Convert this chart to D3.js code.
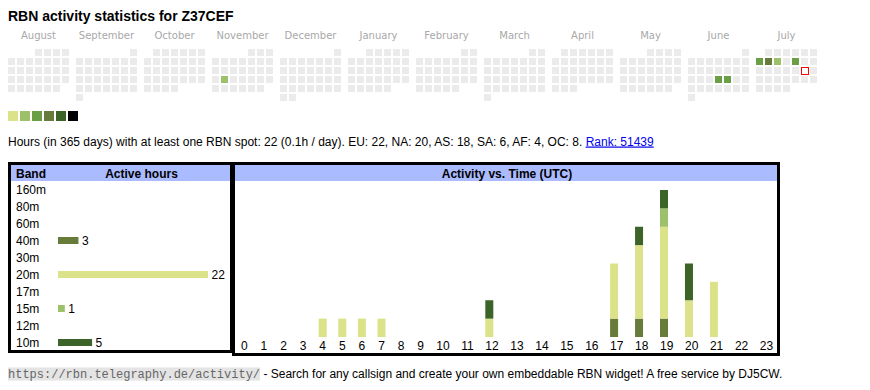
<!DOCTYPE html>
<html>
<head>
<meta charset="utf-8">
<script src="https://cdn.jsdelivr.net/npm/d3@7"></script>
<style>
  body { margin: 0; background: #fff; }
  svg { display: block; }
  text { font-family: "Liberation Sans", Arial, sans-serif; }
</style>
</head>
<body>
<div id="chart"></div>
<script>
// ---- data ----
const callsign = "Z37CEF";
const monthNames = ["August", "September", "October", "November", "December", "January",
                    "February", "March", "April", "May", "June", "July"];
const monthStarts = ["2024-08-01", "2024-09-01", "2024-10-01", "2024-11-01", "2024-12-01", "2025-01-01",
                     "2025-02-01", "2025-03-01", "2025-04-01", "2025-05-01", "2025-06-01", "2025-07-01"];
// days with activity and their level (1..6)
const activeDates = ["2024-11-19", "2025-06-19", "2025-06-20", "2025-07-07", "2025-07-08", "2025-07-09", "2025-07-11"];
const activeLevels = [2, 3, 3, 3, 4, 2, 3];
const today = "2025-07-19";
const levelColors = ["#dbe28a", "#9dc16a", "#6a9f46", "#677c3a", "#3c6428", "#000000"];

const bands = ["160m", "80m", "60m", "40m", "30m", "20m", "17m", "15m", "12m", "10m"];
const bandHours = [0, 0, 0, 3, 0, 22, 0, 1, 0, 5];
const bandColors = {"40m": "#677c3a", "20m": "#dbe28a", "15m": "#9dc16a", "10m": "#3c6428"};

const hourLabels = ["0","1","2","3","4","5","6","7","8","9","10","11",
                    "12","13","14","15","16","17","18","19","20","21","22","23"];
const hours40 = [0,0,0,0,0,0,0,0,0,0,0,0,0,0,0,0,0,1,1,1,0,0,0,0];
const hours20 = [0,0,0,0,1,1,1,1,0,0,0,0,1,0,0,0,0,3,4,5,2,3,0,0];
const hours15 = [0,0,0,0,0,0,0,0,0,0,0,0,0,0,0,0,0,0,0,1,0,0,0,0];
const hours10 = [0,0,0,0,0,0,0,0,0,0,0,0,1,0,0,0,0,0,1,1,2,0,0,0];

const statsText = "Hours (in 365 days) with at least one RBN spot: 22 (0.1h / day). EU: 22, NA: 20, AS: 18, SA: 6, AF: 4, OC: 8. ";
const rankText = "Rank: 51439";

const w = 870, h = 390;
const fs = "12px";

const svg = d3.select("#chart").append("svg")
    .attr("width", w)
    .attr("height", h);

// title
svg.append("text")
    .attr("x", 8).attr("y", 21)
    .style("font-size", "14px").style("font-weight", "bold")
    .text("RBN activity statistics for " + callsign);

// ---- calendar ----
const parse = d3.utcParse("%Y-%m-%d");
const levelByDay = {};
activeDates.forEach(function(d, i) { levelByDay[d] = activeLevels[i]; });

const xMonth = d3.scaleBand().domain(monthStarts).range([8, 8 + 68 * 12]);
const xDay = d3.scaleBand().domain(d3.range(7)).range([0, 63]);
const yWeek = d3.scaleBand().domain(d3.range(6)).range([49, 49 + 54]);
const fmt = d3.utcFormat("%Y-%m-%d");

const months = svg.append("g").attr("class", "calendar")
  .selectAll("g")
  .data(monthStarts)
  .enter().append("g")
    .attr("transform", function(d) { return "translate(" + xMonth(d) + ",0)"; });

months.append("text")
    .attr("x", 30.5).attr("y", 38.5)
    .attr("text-anchor", "middle")
    .style("font-family", "'DejaVu Sans', Verdana, sans-serif")
    .style("font-size", "10px")
    .style("fill", "#a8a8a8")
    .text(function(d, i) { return monthNames[i]; });

months.selectAll("rect")
  .data(function(m) {
    const start = parse(m);
    const offset = (start.getUTCDay() + 6) % 7;
    return d3.utcDays(start, d3.utcMonth.offset(start, 1)).map(function(day) {
      const idx = day.getUTCDate() - 1 + offset;
      return { key: fmt(day), col: idx % 7, row: Math.floor(idx / 7) };
    });
  })
  .enter().append("rect")
    .attr("x", function(d) { return xDay(d.col) + (d.key === today ? 0.5 : 0); })
    .attr("y", function(d) { return yWeek(d.row) + (d.key === today ? 0.5 : 0); })
    .attr("width", 7)
    .attr("height", 7)
    .attr("shape-rendering", "crispEdges")
    .style("fill", function(d) {
      if (d.key === today) return "#fff";
      return levelByDay[d.key] ? levelColors[levelByDay[d.key] - 1] : "#ebebeb";
    })
    .style("stroke", function(d) { return d.key === today ? "#ff0000" : "none"; })
    .style("stroke-width", 1);

// legend
svg.append("g").selectAll("rect")
  .data(levelColors)
  .enter().append("rect")
    .attr("x", function(d, i) { return 8 + i * 12; })
    .attr("y", 111)
    .attr("width", 10).attr("height", 10)
    .style("fill", function(d) { return d; });

// stats line
const stats = svg.append("text")
    .attr("x", 8).attr("y", 145.5)
    .style("font-size", fs);
stats.append("tspan").text(statsText);
stats.append("tspan")
    .style("fill", "#0000ee")
    .attr("text-decoration", "underline")
    .text(rankText);

// ---- band table ----
svg.append("rect")
    .attr("x", 11).attr("y", 165).attr("width", 221).attr("height", 16)
    .style("fill", "#aabbff");
svg.append("rect")
    .attr("x", 9.5).attr("y", 163.5).attr("width", 222).attr("height", 188)
    .style("fill", "none").style("stroke", "#000").style("stroke-width", 3);

svg.append("text").attr("x", 16).attr("y", 177.5)
    .style("font-size", fs).style("font-weight", "bold").text("Band");
svg.append("text").attr("x", 141.5).attr("y", 177.5).attr("text-anchor", "middle")
    .style("font-size", fs).style("font-weight", "bold").text("Active hours");

const xHours = d3.scaleLinear().domain([0, 22]).range([0, 150]);
const yBand = d3.scalePoint().domain(bands).range([193.5, 346.5]);

const bandRow = svg.append("g").selectAll("g")
  .data(bands)
  .enter().append("g")
    .attr("transform", function(d) { return "translate(0," + yBand(d) + ")"; });

bandRow.append("text")
    .attr("x", 16)
    .style("font-size", fs)
    .text(function(d) { return d; });

bandRow.filter(function(d, i) { return bandHours[i] > 0; })
  .each(function(d) {
    const v = bandHours[bands.indexOf(d)];
    const g = d3.select(this);
    g.append("rect")
      .attr("x", 58).attr("y", -7.5)
      .attr("width", xHours(v)).attr("height", 7)
      .style("fill", bandColors[d]);
    g.append("text")
      .attr("x", 58 + xHours(v) + 3.5)
      .style("font-size", fs)
      .text(v);
  });

// ---- activity vs time ----
svg.append("rect")
    .attr("x", 235).attr("y", 165).attr("width", 542).attr("height", 16)
    .style("fill", "#aabbff");
svg.append("rect")
    .attr("x", 233.5).attr("y", 163.5).attr("width", 545).attr("height", 191)
    .style("fill", "none").style("stroke", "#000").style("stroke-width", 3);

svg.append("text").attr("x", 507).attr("y", 177.5).attr("text-anchor", "middle")
    .style("font-size", fs).style("font-weight", "bold").text("Activity vs. Time (UTC)");

// hour columns sized like table cells: content (label or 8px bar) plus shared padding
const barW = 8;
const hourAxis = svg.append("g");
const hourText = hourAxis.selectAll("text")
  .data(hourLabels)
  .enter().append("text")
    .attr("y", 349.5)
    .attr("text-anchor", "middle")
    .style("font-size", fs)
    .text(function(d) { return d; });

const cellW = [];
hourText.each(function() { cellW.push(Math.max(this.getComputedTextLength(), barW)); });
const innerL = 234.5, innerR = 779;
const pad = (innerR - innerL - d3.sum(cellW)) / hourLabels.length;
let acc = innerL;
const centers = cellW.map(function(cw) { const c = acc + (cw + pad) / 2; acc += cw + pad; return c; });
const xHour = d3.scaleOrdinal().domain(hourLabels).range(centers);
const halfW = d3.scaleOrdinal().domain(hourLabels).range(cellW.map(function(cw) { return cw / 2; }));

hourText.attr("x", function(d) { return xHour(d); });

const hourTable = hourLabels.map(function(hr, i) {
  return { hour: hr, "40m": hours40[i], "20m": hours20[i], "15m": hours15[i], "10m": hours10[i] };
});
const stack = d3.stack().keys(["40m", "20m", "15m", "10m"]);
const yAct = d3.scaleLinear().domain([0, 8]).range([337, 190]);

svg.append("g").selectAll("g")
  .data(stack(hourTable))
  .enter().append("g")
    .style("fill", function(d) { return bandColors[d.key]; })
  .selectAll("rect")
  .data(function(d) { return d.filter(function(p) { return p[1] > p[0]; }); })
  .enter().append("rect")
    .attr("x", function(d) { return xHour(d.data.hour) - halfW(d.data.hour); })
    .attr("y", function(d) { return yAct(d[1]); })
    .attr("width", barW)
    .attr("height", function(d) { return yAct(d[0]) - yAct(d[1]); });

// ---- footer ----
svg.append("rect")
    .attr("x", 8).attr("y", 367.5).attr("width", 252).attr("height", 13)
    .style("fill", "#e4e4e4");
const foot = svg.append("text").attr("x", 8).attr("y", 377.5);
foot.append("tspan")
    .style("font-family", "'Liberation Mono', 'Courier New', monospace")
    .style("font-size", "12px")
    .style("fill", "#666")
    .text("https://rbn.telegraphy.de/activity/");
foot.append("tspan")
    .style("font-size", fs)
    .text(" - Search for any callsign and create your own embeddable RBN widget! A free service by DJ5CW.");
</script>
</body>
</html>
